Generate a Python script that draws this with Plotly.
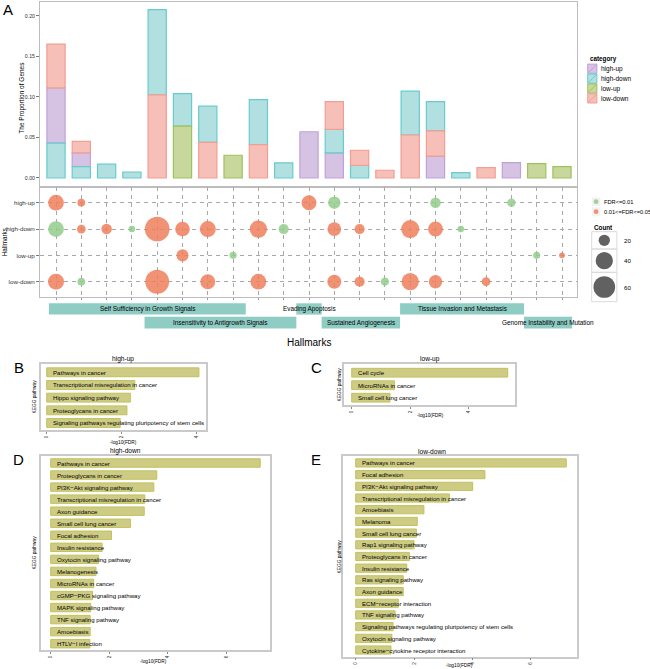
import plotly.graph_objects as go

W, H = 650, 669
FONT = "Liberation Sans, Arial, sans-serif"

# ---------------- Panel A : proportions ----------------
hallmark_cols = list(range(1, 22))
categories = ["high-up", "high-down", "low-up", "low-down"]
prop_high_up   = [0.068, 0.017, 0, 0, 0, 0, 0, 0, 0, 0, 0.057, 0.031, 0, 0, 0, 0.027, 0, 0, 0.019, 0, 0]
prop_high_down = [0.043, 0.014, 0.017, 0.0074, 0.105, 0.040, 0.0445, 0, 0.0556, 0.0185, 0, 0.029,
                  0.0156, 0, 0.054, 0.036, 0.0066, 0, 0, 0, 0]
prop_low_up    = [0, 0, 0, 0, 0, 0.064, 0, 0.028, 0, 0, 0, 0, 0, 0, 0, 0, 0, 0, 0, 0.0177, 0.014]
prop_low_down  = [0.054, 0.014, 0, 0, 0.1025, 0, 0.044, 0, 0.041, 0, 0, 0.034, 0.0186, 0.0095,
                  0.053, 0.031, 0, 0.0128, 0, 0, 0]
stack_orders = [
    ["high-down", "high-up", "low-down"], ["high-down", "high-up", "low-down"], ["high-down"],
    ["high-down"], ["low-down", "high-down"], ["low-up", "high-down"], ["low-down", "high-down"],
    ["low-up"], ["low-down", "high-down"], ["high-down"], ["high-up"],
    ["high-up", "high-down", "low-down"], ["high-down", "low-down"], ["low-down"],
    ["low-down", "high-down"], ["high-up", "low-down", "high-down"], ["high-down"], ["low-down"],
    ["high-up"], ["low-up"], ["low-up"],
]

# ---------------- Panel A : dots ----------------
dot_col   = [1, 2, 11, 12, 16, 19,
             1, 2, 3, 4, 5, 6, 7, 9, 10, 12, 13, 15, 16, 17,
             6, 8, 20, 21,
             1, 2, 5, 7, 9, 12, 13, 14, 15, 16, 18]
dot_cat   = ["high-up"] * 6 + ["high-down"] * 14 + ["low-up"] * 4 + ["low-down"] * 11
dot_count = [34, 12, 31, 23, 18, 13,
             34, 14, 18, 10, 76, 30, 35, 40, 17, 27, 17, 43, 31, 10,
             22, 11, 11, 9,
             35, 12, 72, 31, 34, 28, 17, 13, 40, 26, 14]
dot_fdr   = ["b", "b", "b", "a", "a", "a",
             "a", "b", "b", "a", "b", "b", "b", "b", "a", "b", "b", "b", "b", "a",
             "b", "a", "a", "b",
             "b", "a", "b", "b", "b", "b", "b", "a", "b", "b", "b"]
fdr_labels = {"a": "FDR<=0.01", "b": "0.01<=FDR<=0.05"}
count_legend = [20, 40, 60]

hallmark_names = ["Self Sufficiency in Growth Signals", "Insensitivity to Antigrowth Signals",
                  "Evading Apoptosis", "Sustained Angiogenesis",
                  "Tissue Invasion and Metastasis", "Genome Instability and Mutation"]
hallmark_start = [0.72, 4.5, 10.5, 11.5, 14.6, 19.5]
hallmark_end   = [8.5, 10.5, 11.5, 14.6, 19.5, 21.4]
hallmark_row   = [1, 2, 1, 2, 1, 2]

# ---------------- Panels B-E : KEGG ----------------
B_terms = ["Pathways in cancer", "Transcriptional misregulation in cancer", "Hippo signaling pathway",
           "Proteoglycans in cancer", "Signaling pathways regulating pluripotency of stem cells"]
B_vals = [4.06, 2.35, 2.23, 2.14, 1.96]
C_terms = ["Cell cycle", "MicroRNAs in cancer", "Small cell lung cancer"]
C_vals = [5.34, 1.46, 1.31]
D_terms = ["Pathways in cancer", "Proteoglycans in cancer", "PI3K\u2212Akt signaling pathway",
           "Transcriptional misregulation in cancer", "Axon guidance", "Small cell lung cancer",
           "Focal adhesion", "Insulin resistance", "Oxytocin signaling pathway", "Melanogenesis",
           "MicroRNAs in cancer", "cGMP\u2212PKG signaling pathway", "MAPK signaling pathway",
           "TNF signaling pathway", "Amoebiasis", "HTLV\u2212I infection"]
D_vals = [7.17, 3.63, 3.53, 3.22, 3.20, 2.73, 2.08, 1.76, 1.64, 1.55, 1.47, 1.43, 1.37, 1.35, 1.35, 1.34]
E_terms = ["Pathways in cancer", "Focal adhesion", "PI3K\u2212Akt signaling pathway",
           "Transcriptional misregulation in cancer", "Amoebiasis", "Melanoma", "Small cell lung cancer",
           "Rap1 signaling pathway", "Proteoglycans in cancer", "Insulin resistance",
           "Ras signaling pathway", "Axon guidance", "ECM\u2212receptor interaction",
           "TNF signaling pathway", "Signaling pathways regulating pluripotency of stem cells",
           "Oxytocin signaling pathway", "Cytokine\u2212cytokine receptor interaction"]
E_vals = [7.22, 4.43, 4.01, 3.21, 2.34, 2.11, 2.08, 2.00, 1.84, 1.75, 1.63, 1.63, 1.46, 1.35, 1.28, 1.24, 1.21]

# ---------------- styling ----------------
cat_fill = {"high-up": "#D6C2E2", "high-down": "#B2DFDF", "low-up": "#C8D89C", "low-down": "#F6BFB7"}
cat_line = {"high-up": "#BFA2DC", "high-down": "#66CCCE", "low-up": "#9FC25E", "low-down": "#F19E94"}
dot_color = {"a": "#94CC8C", "b": "#F07F5C"}
kegg_fill = "#CECC84"
kegg_line = "#C3C15A"
frame_col = "#BDBDBD"


def dx(a, b):
    return [a / W, b / W]


def dy(top, bottom):
    return [1 - bottom / H, 1 - top / H]


def px(x):
    return x / W


def py(y):
    return 1 - y / H


def size_px(n):
    return (8.55 * n - 43) ** 0.5


fig = go.Figure()

# stacked bars with explicit bases
props = {"high-up": prop_high_up, "high-down": prop_high_down,
         "low-up": prop_low_up, "low-down": prop_low_down}
bar_data = {c: {"x": [], "y": [], "base": []} for c in categories}
for i, order in enumerate(stack_orders):
    b = 0.0
    for c in order:
        v = props[c][i]
        bar_data[c]["x"].append(hallmark_cols[i])
        bar_data[c]["y"].append(v)
        bar_data[c]["base"].append(b)
        b += v
for c in categories:
    fig.add_trace(go.Bar(x=bar_data[c]["x"], y=bar_data[c]["y"], base=bar_data[c]["base"],
                         width=0.72, marker=dict(color=cat_fill[c], line=dict(color=cat_line[c], width=1.2)),
                         name=c, xaxis="x", yaxis="y", hoverinfo="skip"))

# dots
cat_y = {"high-up": 4, "high-down": 3, "low-up": 2, "low-down": 1}
for key in ["a", "b"]:
    idx = [i for i in range(len(dot_col)) if dot_fdr[i] == key]
    fig.add_trace(go.Scatter(
        x=[dot_col[i] for i in idx], y=[cat_y[dot_cat[i]] for i in idx], mode="markers",
        marker=dict(size=[size_px(dot_count[i]) for i in idx], color=dot_color[key], opacity=0.85,
                    line=dict(width=0)),
        xaxis="x2", yaxis="y2", name=fdr_labels[key], hoverinfo="skip"))

# KEGG panels
panels = [
    ("x3", "y3", B_terms, B_vals),
    ("x4", "y4", C_terms, C_vals),
    ("x5", "y5", D_terms, D_vals),
    ("x6", "y6", E_terms, E_vals),
]
annotations = []
for xa, ya, terms, vals in panels:
    n = len(terms)
    pos = [n - 1 - i for i in range(n)]
    fig.add_trace(go.Bar(x=vals, y=pos, orientation="h", width=0.7,
                         marker=dict(color=kegg_fill, line=dict(color=kegg_line, width=1)),
                         xaxis=xa, yaxis=ya, hoverinfo="skip"))
    for t, p in zip(terms, pos):
        annotations.append(dict(x=0, y=p, xref=xa, yref=ya, text=t, showarrow=False,
                                xanchor="left", yanchor="middle", xshift=4,
                                font=dict(size=6.1, color="black")))

# count legend circles (pixel-coordinate helper axis)
cnt_y = [240.3, 260.7, 287.0]
fig.add_trace(go.Scatter(x=[604.3] * 3, y=cnt_y, mode="markers",
                         marker=dict(size=[size_px(c) for c in count_legend], color="#1E1E1E",
                                     line=dict(width=0)),
                         xaxis="x7", yaxis="y7", hoverinfo="skip"))

shapes = []
# hallmark boxes
row_y = {1: (303.3, 314.6), 2: (316.7, 328.4)}
for name, s, e, r in zip(hallmark_names, hallmark_start, hallmark_end, hallmark_row):
    t, b = row_y[r]
    shapes.append(dict(type="rect", xref="x2", yref="paper", x0=s, x1=e, y0=py(b), y1=py(t),
                       fillcolor="#8FCCC4", line=dict(width=0), layer="below"))
    annotations.append(dict(x=(s + e) / 2, y=py((t + b) / 2), xref="x2", yref="paper", text=name,
                            showarrow=False, font=dict(size=6.4, color="black"),
                            xanchor="center", yanchor="middle"))

# category legend
annotations.append(dict(x=587.7, y=59.3, xref="x7", yref="y7", text="<b>category</b>", showarrow=False,
                        xanchor="left", yanchor="middle", font=dict(size=6.3)))
for i, c in enumerate(categories):
    yc = 68.7 + 9.9 * i
    shapes.append(dict(type="rect", xref="x7", yref="y7", x0=587.7, x1=596.9, y0=yc - 4.6, y1=yc + 4.6,
                       fillcolor=cat_fill[c], line=dict(color=cat_line[c], width=1)))
    shapes.append(dict(type="line", xref="x7", yref="y7", x0=588.2, x1=596.4, y0=yc + 4.1, y1=yc - 4.1,
                       line=dict(color=cat_line[c], width=1)))
    annotations.append(dict(x=599.3, y=yc, xref="x7", yref="y7", text=c, showarrow=False,
                            xanchor="left", yanchor="middle", font=dict(size=6.5)))

# FDR legend
for i, key in enumerate(["a", "b"]):
    yc = 201.7 + 10 * i
    shapes.append(dict(type="rect", xref="x7", yref="y7", x0=591.5, x1=600.8, y0=yc - 4.7, y1=yc + 4.7,
                       fillcolor="#F2F2F2", line=dict(color="white", width=0.8)))
    shapes.append(dict(type="circle", xref="x7", yref="y7", x0=596.1 - 2.4, x1=596.1 + 2.4,
                       y0=yc - 2.4, y1=yc + 2.4, fillcolor=dot_color[key], opacity=0.85, line=dict(width=0)))
    annotations.append(dict(x=602.3, y=yc, xref="x7", yref="y7", text=fdr_labels[key], showarrow=False,
                            xanchor="left", yanchor="middle", font=dict(size=5.7)))

# Count legend
annotations.append(dict(x=591.7, y=227.3, xref="x7", yref="y7", text="<b>Count</b>", showarrow=False,
                        xanchor="left", yanchor="middle", font=dict(size=6.3)))
box_edges = [231.7, 249.0, 272.3, 301.7]
for i, c in enumerate(count_legend):
    shapes.append(dict(type="rect", xref="x7", yref="y7", x0=591.7, x1=616.9, y0=box_edges[i],
                       y1=box_edges[i + 1], fillcolor="rgba(0,0,0,0)", line=dict(color="#DADADA", width=1),
                       layer="below"))
    annotations.append(dict(x=621.5, y=cnt_y[i], xref="x7", yref="y7", text=str(c), showarrow=False,
                            xanchor="left", yanchor="middle", font=dict(size=6.1)))

# titles and labels (pixel positions)
def ptxt(x, y, text, size, angle=0, anchor="center"):
    annotations.append(dict(x=px(x), y=py(y), xref="paper", yref="paper", text=text, showarrow=False,
                            textangle=angle, xanchor=anchor, yanchor="middle", font=dict(size=size)))

ptxt(8, 9, "A", 15)
ptxt(18.5, 367, "B", 15)
ptxt(316, 367, "C", 15)
ptxt(18.5, 459, "D", 15)
ptxt(316, 459, "E", 15)
ptxt(21.7, 98, "The Proportion of Genes", 6.5, -90)
ptxt(4.2, 242, "Hallmarks", 6.3, -90)
ptxt(308.5, 342, "Hallmarks", 10)
ptxt(122.5, 359, "high-up", 6.6)
ptxt(429.5, 359, "low-up", 6.6)
ptxt(125, 451, "high-down", 6.6)
ptxt(432, 451, "low-down", 6.6)
ptxt(123, 442, "-log10(FDR)", 4.8)
ptxt(430, 416, "-log10(FDR)", 4.8)
ptxt(153, 661, "-log10(FDR)", 4.8)
ptxt(459, 665.5, "-log10(FDR)", 4.8)
ptxt(33.5, 397, "KEGG pathway", 4.8, -90)
ptxt(338.5, 385, "KEGG pathway", 4.8, -90)
ptxt(33.5, 553, "KEGG pathway", 4.8, -90)
ptxt(338.5, 557, "KEGG pathway", 4.8, -90)

frame = dict(showline=True, mirror=True, linecolor=frame_col, linewidth=1, showgrid=False, zeroline=False)
kframe = dict(showline=True, mirror=True, linecolor="#CACACA", linewidth=1.5, showgrid=False, zeroline=False)
ktick = dict(ticks="outside", ticklen=2, tickcolor="#888888", tickangle=-90,
             tickfont=dict(size=4.6, color="#333333"))

yt = [0, 0.05, 0.10, 0.15, 0.20]
layout = dict(
    width=W, height=H, margin=dict(l=0, r=0, t=0, b=0), paper_bgcolor="white", plot_bgcolor="white",
    showlegend=False, barmode="overlay", font=dict(family=FONT, color="black"),
    xaxis=dict(domain=dx(40, 577), range=[0.3676, 21.593], anchor="y", showticklabels=False, ticks="", **frame),
    yaxis=dict(domain=dy(1.5, 186.5), range=[-0.0105, 0.2175], anchor="x", tickvals=yt,
               ticktext=["%.2f" % v for v in yt], ticks="outside", ticklen=3, tickcolor="#777777",
               tickfont=dict(size=5.2, color="#333333"), **frame),
    xaxis2=dict(domain=dx(40, 577), range=[0.3676, 21.593], anchor="y2", tickvals=hallmark_cols,
                showticklabels=False, ticks="outside", ticklen=2, tickcolor="#999999",
                showline=True, mirror=True, linecolor=frame_col, linewidth=1, zeroline=False,
                showgrid=True, gridcolor="#A8A8A8", gridwidth=1, griddash="4px,4px"),
    yaxis2=dict(domain=dy(186.5, 297), range=[0.419, 4.616], anchor="x2", tickvals=[4, 3, 2, 1],
                ticktext=categories, ticks="outside", ticklen=3, tickcolor="#777777",
                tickfont=dict(size=6.2, color="#333333"),
                showline=True, mirror=True, linecolor=frame_col, linewidth=1, zeroline=False,
                showgrid=True, gridcolor="#A8A8A8", gridwidth=1, griddash="4px,4px"),
    xaxis3=dict(domain=dx(40.7, 205.7), range=[-0.16, 4.24], anchor="y3", tickvals=[0, 2, 4], **ktick, **kframe),
    yaxis3=dict(domain=dy(364, 430), range=[-0.553, 4.655], anchor="x3", showticklabels=False, **kframe),
    xaxis4=dict(domain=dx(344, 515), range=[-0.264, 5.59], anchor="y4", tickvals=[0, 2, 4], **ktick, **kframe),
    yaxis4=dict(domain=dy(364, 405), range=[-0.584, 2.696], anchor="x4", showticklabels=False, **kframe),
    xaxis5=dict(domain=dx(41, 270), range=[-0.332, 7.505], anchor="y5", tickvals=[0, 2, 4, 6], **ktick, **kframe),
    yaxis5=dict(domain=dy(455.7, 650), range=[-0.523, 15.606], anchor="x5", showticklabels=False, **kframe),
    xaxis6=dict(domain=dx(343.3, 576.7), range=[-0.425, 7.576], anchor="y6", tickvals=[0, 2, 4, 6], **ktick, **kframe),
    yaxis6=dict(domain=dy(455.7, 656.7), range=[-0.573, 16.62], anchor="x6", showticklabels=False, **kframe),
    xaxis7=dict(domain=dx(578, 650), range=[578, 650], anchor="y7", visible=False),
    yaxis7=dict(domain=dy(50, 305), range=[305, 50], anchor="x7", visible=False),
    shapes=shapes,
    annotations=annotations,
)
fig.update_layout(**layout)
fig.write_html("out.html", config={"displayModeBar": False},
               post_script="document.body.style.margin='0';document.body.style.padding='0';"
                           "document.body.style.overflow='hidden';")
